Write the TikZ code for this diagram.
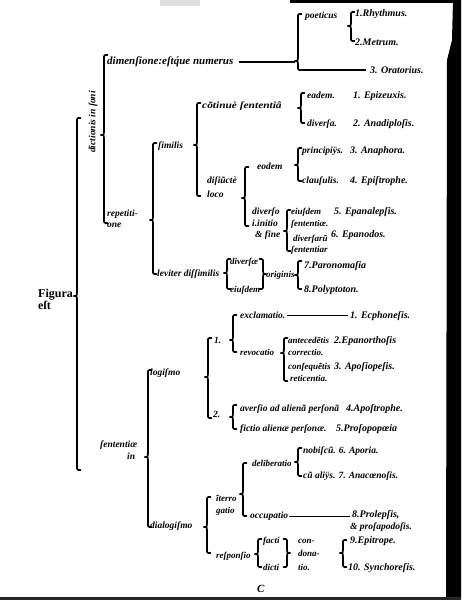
\documentclass[tikz,border=0pt]{standalone}
\usepackage{graphicx}
\usepackage{fontspec}
\setmainfont{Liberation Serif}
\newfontfamily\itfam{Liberation Serif}
\newfontfamily\upfam{Liberation Serif}
\newcommand{\BrL}[4]{\draw[brc] (#1+3.5,#2) .. controls (#1,#2) .. (#1,#2+3.5) -- (#1,#3-3) .. controls (#1,#3) .. (#1-3.5,#3) .. controls (#1,#3) .. (#1,#3+3) -- (#1,#4-3.5) .. controls (#1,#4) .. (#1+3.5,#4);}
\newcommand{\BrR}[4]{\draw[brc] (#1-3.5,#2) .. controls (#1,#2) .. (#1,#2+3.5) -- (#1,#3-3) .. controls (#1,#3) .. (#1+3.5,#3) .. controls (#1,#3) .. (#1,#3+3) -- (#1,#4-3.5) .. controls (#1,#4) .. (#1-3.5,#4);}
\tikzset{
  t/.style={anchor=base west, inner sep=0pt, font=\fontsize{9.5}{11}\selectfont\itfam\bfseries\itshape},
  s/.style={anchor=base west, inner sep=0pt, font=\fontsize{9}{10}\selectfont\itfam\bfseries\itshape},
  nm/.style={anchor=base west, inner sep=0pt, font=\fontsize{10}{12}\selectfont\itfam\bfseries\itshape},
  up/.style={anchor=base west, inner sep=0pt, font=\fontsize{12}{14}\selectfont\upfam\bfseries},
  brc/.style={line width=1.7pt, line cap=round},
  ln/.style={line width=1.4pt},
}
\begin{document}
\begin{tikzpicture}[x=1pt,y=-1pt]
\useasboundingbox (0,0) rectangle (461,600);
\fill[white] (0,0) rectangle (461,600);
% scan edges
\fill[black!12] (160,0) rectangle (200,6);
\fill[black] (290,0) rectangle (461,3);
\fill[black] (453,0) -- (461,0) -- (461,600) -- (446,600) -- (447,60) -- (452,40) -- cycle;
\fill[black!85] (0,597) rectangle (461,600);

% Figura
\node[up] (fig) at (38,297) {Figura};
\node[up] (est) at (38,309) {eſt};
\BrL{77}{118}{296}{470}

% dictionis in soni
\node[rotate=90, inner sep=0pt, font=\fontsize{9.5}{11}\selectfont\itfam\bfseries\itshape] (dict) at (93,122) {dictionis in ſoni};
\BrL{104}{55}{135}{223}

\node[t, font=\fontsize{11}{13}\selectfont\itfam\bfseries\itshape] (dim) at (107,64.5) {dimenſione:eſtq́ue numerus};
\BrL{298}{14}{61}{70}
\coordinate (cC) at (294.5,61);
\coordinate (cCb) at (301.5,70);
\draw[ln] ([xshift=5pt]dim.east) -- (dim.east -| cC);
\node[t] (poet) at (305,18.5) {poeticus};
\BrL{351}{12}{26}{41}
\node[nm] (rhy) at (355,16.5) {1.Rhythmus.};
\node[nm] (met) at (355,45.5) {2.Metrum.};
\node[nm] (orat) at (370,73.5) {3. Oratorius.};
\draw[ln] (cCb) -- ([xshift=-4pt]cCb -| orat.west);

% repetitione
\node[t] (rep1) at (107,216.5) {repetiti-};
\node[t] (rep2) at (107,227.5) {one};
\BrL{153}{143}{220}{274}
\node[t] (simil) at (158,148.5) {ſimilis};
\BrL{197}{103}{145}{196}
\node[t] (cont) at (202,108.5) {\scalebox{1.2}[1]{cõtinuè ſententiâ}};
\BrL{301}{93}{108}{123}
\node[t] (ead) at (307,98.5) {eadem.};
\node[nm] (epiz) at (353,98.5) {1. Epizeuxis.};
\node[t] (diva) at (307,126.5) {diverſa.};
\node[nm] (anad) at (353,126.5) {2. Anadiploſis.};

\node[t] (disi) at (207,183.5) {diſiũctè};
\node[t] (loco) at (207,197.5) {loco};
\BrL{245}{167}{198}{226}
\node[t] (eodem) at (257,169.5) {eodem};
\BrL{298}{148}{165}{181}
\node[t] (princ) at (302,153.5) {principiÿs.};
\node[nm] (anaph) at (350,153.5) {3. Anaphora.};
\node[t] (claus) at (302,183.5) {clauſulis.};
\node[nm] (epist) at (350,183.5) {4. Epiſtrophe.};

\node[t] (divo) at (252,214.5) {diverſo};
\node[t] (init) at (252,226.5) {i.initio};
\node[t] (fine) at (255,237.5) {\&\ fine};
\BrL{287}{210}{231}{251}
\node[s] (eius1) at (291,214.5) {eiuſdem};
\node[s] (sent1) at (291,226.5) {ſententiæ.};
\node[s] (divar) at (293,241.5) {diverſarũ};
\node[s] (sent2) at (291,252.5) {ſententiar};
\node[nm] (epanal) at (334,214.5) {5. Epanalepſis.};
\node[nm] (epanod) at (331,237.5) {6. Epanodos.};

\node[t] (levi) at (157,276.5) {leviter diſſimilis};
\BrL{227}{259}{273}{289}
\node[s] (divae) at (230,264.5) {diverſæ};
\node[s] (eius2) at (230,292.5) {eiuſdem};
\BrR{263}{259}{274}{289}
\node[s] (orig) at (266,277.5) {originis};
\BrL{298}{261}{275}{289}
\node[nm] (paro) at (304,268.5) {7.Paronomaſia};
\node[nm] (poly) at (304,292.5) {8.Polyptoton.};

% sententiae in
\node[t] (sent3) at (100,447.5) {ſententiæ};
\node[t] (inn) at (127,459.5) {in};
\BrL{148}{370}{457}{527}
\node[t] (logi) at (150,375.5) {logiſmo};
\BrL{208}{338}{377}{418}
\node[t] (one) at (214,343.5) {1.};
\BrL{233}{315}{340}{352}
\node[t] (excl) at (240,318.5) {exclamatio.};
\node[nm] (ecph) at (350,318.5) {1. Ecphoneſis.};
\draw[ln] ([xshift=1pt]excl.east) -- ([xshift=-2pt]excl.east -| ecph.west);
\node[t, font=\fontsize{9}{11}\selectfont\itfam\bfseries\itshape] (revo) at (240,355.5) {revocatio};
\BrL{284}{338}{353}{381}
\node[s] (ante) at (288,343.5) {antecedẽtis};
\node[nm] (epan) at (334,343.5) {2.Epanorthoſis};
\node[s] (corr) at (288,355.5) {correctio.};
\node[s] (cons) at (288,369.5) {conſequẽtis};
\node[nm] (apos) at (334,369.5) {3. Apoſiopeſis.};
\node[s] (reti) at (290,381.5) {reticentia.};
\node[t] (two) at (213,417.5) {2.};
\BrL{233}{405}{417}{429}
\node[t] (aver) at (240,411.5) {averſio ad alienã perſonã};
\node[nm] (apost) at (346,411.5) {4.Apoſtrophe.};
\node[t] (fict) at (240,431.5) {fictio alienæ perſonæ.};
\node[nm] (pros) at (336,431.5) {5.Proſopopœia};

\node[t] (dial) at (150,528.5) {dialogiſmo};
\BrL{207}{497}{527}{553}
\node[s] (iter) at (216,501.5) {ĩterro};
\node[s] (gat) at (216,513.5) {gatio};
\BrL{243}{463}{494}{516}
\node[s] (deli) at (252,466.5) {deliberatio};
\BrL{298}{448}{462}{476}
\node[t] (nobi) at (303,453.5) {nobiſcũ. 6. Aporia.};
\node[t] (cual) at (303,478.5) {cũ aliÿs. 7. Anacœnoſis.};
\node[t] (occu) at (250,518.5) {occupatio};
\node[nm] (prol) at (352,517.5) {8.Prolepſis,};
\node[t] (prosa) at (350,529.5) {\&\ proſapodoſis.};
\draw[ln] ([xshift=1pt]occu.east) -- ([xshift=-2pt]occu.east -| prol.west);
\node[t, font=\fontsize{9}{11}\selectfont\itfam\bfseries\itshape] (resp) at (216,558.5) {reſponſio};
\BrL{258}{539}{554}{567}
\node[s] (fact) at (263,543.5) {facti};
\node[s] (dict2) at (263,570.5) {dicti};
\BrR{287}{539}{553}{567}
\node[s] (con) at (298,543.5) {con-};
\node[s] (dona) at (298,556.5) {dona-};
\node[s] (tio) at (298,570.5) {tio.};
\BrL{343}{540}{553}{567}
\node[nm] (epit) at (350,543.5) {9.Epitrope.};
\node[nm] (sync) at (348,570.5) {10. Synchoreſis.};

\node[t, font=\fontsize{11}{12}\selectfont\itfam\bfseries\itshape] (sig) at (257,592) {C};
\end{tikzpicture}
\end{document}
